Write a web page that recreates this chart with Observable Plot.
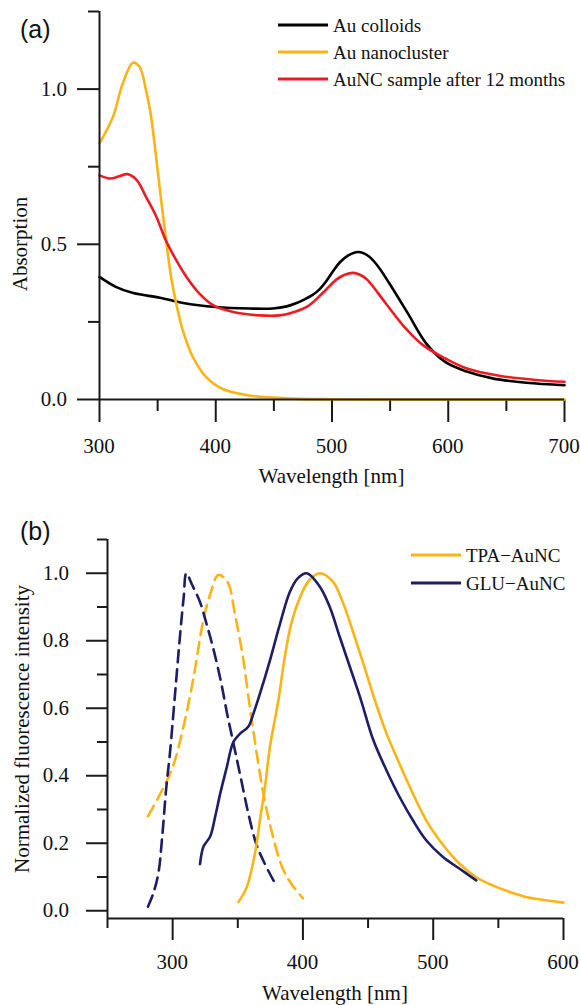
<!DOCTYPE html>
<html>
<head>
<meta charset="utf-8">
<script src="https://cdn.jsdelivr.net/npm/d3@7"></script>
<script src="https://cdn.jsdelivr.net/npm/@observablehq/plot@0.6"></script>
<style>
  html, body { margin: 0; padding: 0; background: #fff; }
  #wrap { position: relative; width: 580px; height: 1005px; font-family: "Liberation Serif", "Times New Roman", serif; color: #111; overflow: hidden; }
  .panel { position: absolute; left: 0; }
  .tag { position: absolute; font-family: "Liberation Sans", Arial, sans-serif; font-size: 25px; line-height: 1; color: #111; }
  .lab { position: absolute; font-size: 21px; line-height: 1; white-space: nowrap; color: #111; }
  .row { position: absolute; display: flex; align-items: center; transform: translateY(-50%); font-size: 19px; white-space: nowrap; line-height: 1; }
  .row .sw { display: inline-block; width: 50px; height: 3px; margin-right: 5px; }
</style>
</head>
<body>
<div id="wrap"></div>
<script>
// ---------- Panel (a): absorption spectra ----------
const colloidsWl  = [300, 314, 329, 352, 372, 400, 429, 449, 461, 469, 476, 483, 489, 495, 501, 507, 514, 519, 523, 528, 533, 540, 549, 565, 581, 597, 616, 638, 667, 700];
const colloidsAbs = [0.395, 0.363, 0.343, 0.328, 0.311, 0.298, 0.293, 0.293, 0.300, 0.310, 0.322, 0.336, 0.354, 0.381, 0.414, 0.443, 0.464, 0.473, 0.475, 0.470, 0.457, 0.427, 0.376, 0.279, 0.181, 0.122, 0.090, 0.068, 0.054, 0.046];

const clusterWl  = [300, 311.5, 320, 328.7, 334.4, 340, 344.4, 348.7, 353, 357.3, 361.6, 366, 371.7, 380.3, 391.8, 406, 429, 450, 472, 500, 600, 700];
const clusterAbs = [0.825, 0.91, 1.018, 1.085, 1.072, 0.997, 0.91, 0.781, 0.642, 0.513, 0.394, 0.309, 0.222, 0.137, 0.072, 0.034, 0.013, 0.006, 0.002, 0.001, 0, 0];

const agedWl  = [300, 309, 317, 324, 332, 340, 349, 357, 366, 375, 386, 398, 415, 438, 455, 465, 479, 492, 504, 511, 518, 524, 530, 546, 562, 578, 597, 616, 645, 676, 700];
const agedAbs = [0.722, 0.712, 0.719, 0.726, 0.707, 0.653, 0.588, 0.513, 0.449, 0.394, 0.341, 0.303, 0.282, 0.271, 0.271, 0.279, 0.300, 0.343, 0.387, 0.402, 0.408, 0.402, 0.387, 0.311, 0.235, 0.176, 0.133, 0.100, 0.076, 0.063, 0.057];

const seriesA = ["Au colloids", "Au nanocluster", "AuNC sample after 12 months"];
const colorsA = ["#000000", "#fcb415", "#ec1c24"];
const ticksAx = [300, 400, 500, 600, 700];
const minorAx = [350, 450, 550, 650];
const ticksAy = [0, 0.5, 1.0];
const minorAy = [0.25, 0.75, 1.25];
const labelAx = "Wavelength [nm]";
const labelAy = "Absorption";

// ---------- Panel (b): fluorescence spectra ----------
const tpaExWl  = [281, 291, 300, 308, 316, 323.5, 329, 335, 342, 348, 354, 359, 364, 369.5, 376, 384.5, 392, 400];
const tpaExI   = [0.28, 0.35, 0.425, 0.54, 0.69, 0.86, 0.94, 0.995, 0.975, 0.875, 0.75, 0.61, 0.48, 0.35, 0.235, 0.125, 0.075, 0.037];

const gluExWl  = [281, 285, 289, 292, 295, 298, 302, 306, 308.5, 310.5, 315, 321, 326, 331, 337, 342, 347, 352.5, 358, 364, 370, 378];
const gluExI   = [0.012, 0.05, 0.11, 0.22, 0.36, 0.47, 0.65, 0.83, 0.93, 1.0, 0.965, 0.915, 0.85, 0.78, 0.68, 0.58, 0.49, 0.39, 0.29, 0.2, 0.145, 0.085];

const tpaEmWl  = [350.5, 356.9, 363.2, 367, 370.9, 374.7, 381, 386, 391, 399, 405, 413, 423, 431, 439, 447, 455, 464, 474, 484.4, 494.6, 504.8, 520, 532.8, 545.6, 558.3, 571, 585, 600];
const tpaEmI   = [0.026, 0.07, 0.17, 0.268, 0.367, 0.486, 0.62, 0.75, 0.85, 0.94, 0.98, 1.0, 0.975, 0.91, 0.82, 0.725, 0.626, 0.527, 0.436, 0.347, 0.268, 0.209, 0.14, 0.10, 0.075, 0.056, 0.041, 0.032, 0.024];

const gluEmWl  = [321, 323.7, 328.8, 332.6, 336.5, 341.6, 346.6, 351.8, 358, 362, 367, 374.7, 382.4, 390, 396, 403, 413, 420.6, 428.3, 436, 444.5, 453.8, 464, 474.2, 484.4, 494.6, 507.3, 520, 533];
const gluEmI   = [0.138, 0.19, 0.22, 0.278, 0.347, 0.426, 0.5, 0.525, 0.545, 0.584, 0.643, 0.742, 0.85, 0.945, 0.985, 1.0, 0.96, 0.90, 0.811, 0.723, 0.625, 0.508, 0.417, 0.337, 0.268, 0.209, 0.16, 0.125, 0.09];

const seriesB = ["TPA\u2212AuNC", "GLU\u2212AuNC"];
const colorsB = ["#fcb415", "#1e1e66"];
const ticksBx = [300, 400, 500, 600];
const minorBx = [250, 350, 450, 550];
const ticksBy = [0, 0.2, 0.4, 0.6, 0.8, 1.0];
const minorBy = [0.1, 0.3, 0.5, 0.7, 0.9, 1.1];
const labelBx = "Wavelength [nm]";
const labelBy = "Normalized fluorescence intensity";

// ---------- build tables ----------
const zipRows = (wl, v, series, kind) => wl.map((w, i) => ({wl: w, v: v[i], series, kind}));
const dataA = [
  ...zipRows(colloidsWl, colloidsAbs, seriesA[0]),
  ...zipRows(clusterWl, clusterAbs, seriesA[1]),
  ...zipRows(agedWl, agedAbs, seriesA[2])
];
const exB = [
  ...zipRows(tpaExWl, tpaExI, seriesB[0], "ex"),
  ...zipRows(gluExWl, gluExI, seriesB[1], "ex")
];
const emB = [
  ...zipRows(tpaEmWl, tpaEmI, seriesB[0], "em"),
  ...zipRows(gluEmWl, gluEmI, seriesB[1], "em")
];

const fmt1 = d3.format(".1f");
const fmt0 = d3.format("d");
const axisStyle = "background: transparent; overflow: visible;";
const ink = "#1a1a1a";
const blank = () => "";

const wrap = document.getElementById("wrap");

function addLabel(text, left, top, transform) {
  const d = document.createElement("div");
  d.className = "lab";
  d.textContent = text;
  d.style.left = left + "px";
  d.style.top = top + "px";
  d.style.transform = transform;
  wrap.appendChild(d);
}

// Tick labels and titles as HTML text, placed through the plot's own scales
function labelAxes(plot, offsetTop, o) {
  const sx = plot.scale("x"), sy = plot.scale("y");
  const [x0, x1] = sx.range;
  const [yb, yt] = sy.range;
  o.xTicks.forEach(t => addLabel(fmt0(t), sx.apply(t), offsetTop + yb + o.xLabelGap, "translate(-50%,-50%)"));
  o.yTicks.forEach(t => addLabel(fmt1(t), x0 - o.yLabelGap, offsetTop + sy.apply(t), "translate(-100%,-50%)"));
  addLabel(o.xTitle, (x0 + x1) / 2, offsetTop + yb + o.xTitleGap, "translate(-50%,-50%)");
  addLabel(o.yTitle, x0 - o.yTitleGap, offsetTop + (o.yTitleAt != null ? sy.apply(o.yTitleAt) : (yb + yt) / 2), "translate(-50%,-50%) rotate(-90deg)");
}

// Panel (a)
const plotA = Plot.plot({
  width: 580, height: 500,
  marginLeft: 99, marginRight: 16, marginTop: 11, marginBottom: 101,
  style: axisStyle,
  x: {domain: [300, 700]},
  y: {domain: [0, 1.25]},
  color: {domain: seriesA, range: colorsA},
  marks: [
    Plot.axisY({ticks: ticksAy, tickSize: 22, tickFormat: blank, label: null, stroke: ink, strokeWidth: 2}),
    Plot.axisY({ticks: minorAy, tickSize: 11, tickFormat: blank, label: null, stroke: ink, strokeWidth: 2}),
    Plot.axisX({ticks: ticksAx, tickSize: 23, tickFormat: blank, label: null, stroke: ink, strokeWidth: 2}),
    Plot.axisX({ticks: minorAx, tickSize: 12, tickFormat: blank, label: null, stroke: ink, strokeWidth: 2}),
    Plot.line(dataA, {x: "wl", y: "v", z: "series", stroke: "series", strokeWidth: 2.6, curve: "catmull-rom"}),
    Plot.ruleY([0], {stroke: ink, strokeWidth: 2}),
    Plot.ruleX([300], {stroke: ink, strokeWidth: 2})
  ]
});
plotA.classList.add("panel");
plotA.style.top = "0px";
wrap.appendChild(plotA);
labelAxes(plotA, 0, {xTicks: ticksAx, yTicks: ticksAy, xLabelGap: 47, yLabelGap: 32, xTitle: labelAx, yTitle: labelAy, xTitleGap: 77, yTitleGap: 79, yTitleAt: 0.5});

// Panel (b)
const yMinB = -0.023;
const plotB = Plot.plot({
  width: 580, height: 505,
  marginLeft: 107, marginRight: 17, marginTop: 39, marginBottom: 87,
  style: axisStyle,
  x: {domain: [250, 600]},
  y: {domain: [yMinB, 1.1]},
  color: {domain: seriesB, range: colorsB},
  marks: [
    Plot.axisY({ticks: ticksBy, tickSize: 21, tickFormat: blank, label: null, stroke: ink, strokeWidth: 2}),
    Plot.axisY({ticks: minorBy, tickSize: 10, tickFormat: blank, label: null, stroke: ink, strokeWidth: 2}),
    Plot.axisX({ticks: ticksBx, tickSize: 22, tickFormat: blank, label: null, stroke: ink, strokeWidth: 2}),
    Plot.axisX({ticks: minorBx, tickSize: 10, tickFormat: blank, label: null, stroke: ink, strokeWidth: 2}),
    Plot.line(exB, {x: "wl", y: "v", z: "series", stroke: "series", strokeWidth: 2.6, strokeDasharray: "12,7", curve: "catmull-rom"}),
    Plot.line(emB, {x: "wl", y: "v", z: "series", stroke: "series", strokeWidth: 2.6, curve: "catmull-rom"}),
    Plot.ruleX([250], {stroke: ink, strokeWidth: 2}),
    Plot.ruleY([yMinB], {stroke: ink, strokeWidth: 2})
  ]
});
plotB.classList.add("panel");
plotB.style.top = "500px";
wrap.appendChild(plotB);
labelAxes(plotB, 500, {xTicks: ticksBx, yTicks: ticksBy, xLabelGap: 44, yLabelGap: 38, xTitle: labelBx, yTitle: labelBy, xTitleGap: 75, yTitleGap: 85});

// Panel tags
function tag(txt, left, cy) {
  const d = document.createElement("div");
  d.className = "tag";
  d.textContent = txt;
  d.style.left = left + "px";
  d.style.top = cy + "px";
  d.style.transform = "translateY(-50%)";
  wrap.appendChild(d);
}
tag("(a)", 20, 29);
tag("(b)", 20, 531);

// Legends
function legend(names, colors, left, ys) {
  names.forEach((n, i) => {
    const r = document.createElement("div");
    r.className = "row";
    r.style.left = left + "px";
    r.style.top = ys[i] + "px";
    const sw = document.createElement("span");
    sw.className = "sw";
    sw.style.background = colors[i];
    const t = document.createElement("span");
    t.textContent = n;
    r.appendChild(sw); r.appendChild(t);
    wrap.appendChild(r);
  });
}
legend(seriesA, colorsA, 278, [25, 52, 79]);
legend(seriesB, colorsB, 411, [555, 583]);
</script>
</body>
</html>
